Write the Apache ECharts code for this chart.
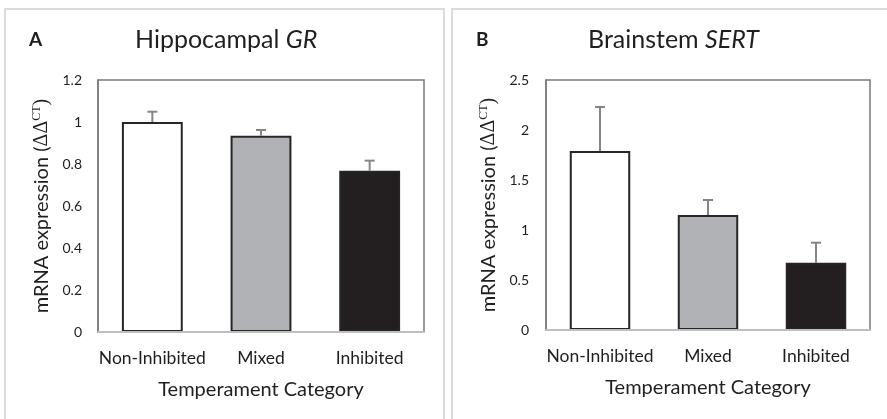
<!DOCTYPE html>
<html>
<head>
<meta charset="utf-8">
<script src="https://cdn.jsdelivr.net/npm/echarts@6/dist/echarts.min.js"></script>
<style>
html,body{margin:0;padding:0;background:#fff;}
#chart{width:887px;height:419px;}
</style>
</head>
<body>
<div id="chart"></div>
<script>
var categories = ['Non-Inhibited', 'Mixed', 'Inhibited'];
var grValues = [1.0, 0.935, 0.768];
var grErrors = [0.049, 0.027, 0.048];
var sertValues = [1.79, 1.15, 0.673];
var sertErrors = [0.44, 0.15, 0.20];
var barColors = ['#ffffff', '#b1b2b6', '#231f20'];
var grTicks = { min: 0, max: 1.2, interval: 0.2 };
var sertTicks = { min: 0, max: 2.5, interval: 0.5 };

var FONT = 'Lato';
var TXT = '#1f1f1f';
var chart = echarts.init(document.getElementById('chart'), null, { renderer: 'canvas' });

function barData(vals) {
  return vals.map(function (v, i) {
    return { value: v, itemStyle: { color: barColors[i] } };
  });
}
function errData(vals, errs) {
  return vals.map(function (v, i) { return [i, v, errs[i]]; });
}
function errRender(params, api) {
  var x = api.value(0), v = api.value(1), e = api.value(2);
  var p0 = api.coord([x, v]);
  var p1 = api.coord([x, v + e]);
  var hw = 5;
  var st = { stroke: '#858585', lineWidth: 2 };
  return {
    type: 'group',
    children: [
      { type: 'line', shape: { x1: p0[0], y1: p0[1], x2: p1[0], y2: p1[1] }, style: st },
      { type: 'line', shape: { x1: p1[0] - hw, y1: p1[1], x2: p1[0] + hw, y2: p1[1] }, style: st }
    ]
  };
}

var yNameRich = {
  a: { fontFamily: FONT, fontSize: 20, color: TXT },
  d: { fontFamily: 'Liberation Serif', fontSize: 20, color: TXT },
  s: { fontFamily: 'Liberation Serif', fontSize: 12, color: TXT, verticalAlign: 'top', padding: [0, 0, 9, 0] }
};
var yName = '{a|mRNA expression (}{d|ΔΔ}{s|CT}{d|)}';

function xAxisCfg(gi) {
  return {
    type: 'category', gridIndex: gi, data: categories, z: 5,
    axisLine: { show: true, lineStyle: { color: '#bfbfbf', width: 2 } },
    axisTick: { show: false },
    axisLabel: { fontFamily: FONT, fontSize: 17.5, color: TXT, margin: 17, interval: 0 },
    name: 'Temperament Category', nameLocation: 'middle', nameGap: 48,
    nameTextStyle: { fontFamily: FONT, fontSize: 20, color: TXT }
  };
}
function yAxisCfg(gi, t, gap, lm) {
  return {
    type: 'value', gridIndex: gi, min: t.min, max: t.max, interval: t.interval,
    splitLine: { show: false },
    axisLine: { show: true, lineStyle: { color: '#7a7a7a', width: 1.5 } },
    axisTick: { show: false },
    axisLabel: { fontFamily: FONT, fontSize: 14, color: TXT, margin: lm },
    name: yName, nameLocation: 'middle', nameGap: gap, nameRotate: 90,
    nameTextStyle: { rich: yNameRich }
  };
}

var titleRich = {
  n: { fontFamily: FONT, fontSize: 25, fontWeight: 'normal', color: TXT },
  i: { fontFamily: FONT, fontSize: 25, fontWeight: 'normal', fontStyle: 'italic', color: TXT }
};

var option = {
  backgroundColor: '#ffffff',
  animation: false,
  title: [
    { text: 'A', left: 29, top: 30, padding: 0, textStyle: { fontFamily: FONT, fontWeight: 'bold', fontSize: 19, color: TXT } },
    { text: '{n|Hippocampal }{i|GR}', left: 135, top: 27, padding: 0, textStyle: { fontWeight: 'normal', rich: titleRich } },
    { text: 'B', left: 476, top: 30, padding: 0, textStyle: { fontFamily: FONT, fontWeight: 'bold', fontSize: 19, color: TXT } },
    { text: '{n|Brainstem }{i|SERT}', left: 588, top: 27, padding: 0, textStyle: { fontWeight: 'normal', rich: titleRich } }
  ],
  graphic: [
    { type: 'rect', shape: { x: 5, y: 9, width: 439, height: 430 }, style: { fill: 'none', stroke: '#dcdcdc', lineWidth: 2 }, z: -1 },
    { type: 'rect', shape: { x: 452, y: 9, width: 460, height: 430 }, style: { fill: 'none', stroke: '#dcdcdc', lineWidth: 2 }, z: -1 }
  ],
  grid: [
    { left: 98, top: 80, width: 326, height: 252, show: true, borderColor: '#7a7a7a', borderWidth: 1.5, backgroundColor: 'transparent' },
    { left: 546, top: 80, width: 324, height: 250, show: true, borderColor: '#7a7a7a', borderWidth: 1.5, backgroundColor: 'transparent' }
  ],
  xAxis: [xAxisCfg(0), xAxisCfg(1)],
  yAxis: [yAxisCfg(0, grTicks, 46, 16), yAxisCfg(1, sertTicks, 47, 17)],
  series: [
    { type: 'bar', xAxisIndex: 0, yAxisIndex: 0, barWidth: '56%', data: barData(grValues),
      itemStyle: { borderColor: '#262626', borderWidth: 2 } },
    { type: 'custom', xAxisIndex: 0, yAxisIndex: 0, renderItem: errRender, data: errData(grValues, grErrors), z: 3 },
    { type: 'bar', xAxisIndex: 1, yAxisIndex: 1, barWidth: '56%', data: barData(sertValues),
      itemStyle: { borderColor: '#262626', borderWidth: 2 } },
    { type: 'custom', xAxisIndex: 1, yAxisIndex: 1, renderItem: errRender, data: errData(sertValues, sertErrors), z: 3 }
  ]
};
chart.setOption(option);
</script>
</body>
</html>
